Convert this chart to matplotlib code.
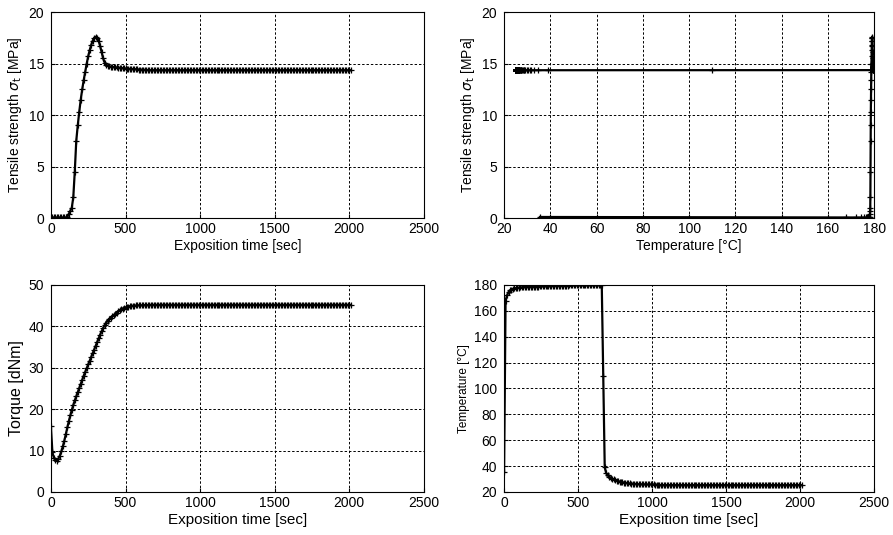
"""Four-panel cure curves: tensile strength, torque and temperature over exposition time."""

import matplotlib
matplotlib.use("Agg")
import matplotlib.pyplot as plt
import numpy as np

plt.rcParams["font.family"] = ["Liberation Sans", "DejaVu Sans"]
plt.rcParams["mathtext.fontset"] = "dejavusans"

# sampling grid of the recorder: one reading every 10 s, 0 .. 2010 s
time_s = np.arange(0, 2011, 10)

tensile_mpa = [
    0.10, 0.05, 0.05, 0.05, 0.05, 0.05, 0.05, 0.05, 0.05, 0.05,
    0.05, 0.10, 0.40, 0.70, 1.00, 2.00, 4.50, 7.50, 9.00, 10.3,
    11.5, 12.5, 13.4, 14.2, 15.0, 15.7, 16.3, 16.8, 17.2, 17.5,
    17.6, 17.5, 17.2, 16.7, 16.1, 15.5, 15.1, 14.9, 14.8, 14.75,
    14.70, 14.68, 14.66, 14.64, 14.62, 14.60, 14.58, 14.56, 14.55, 14.54,
    14.52, 14.50, 14.49, 14.48, 14.47, 14.46, 14.45, 14.44, 14.43, 14.42,
    14.41, 14.40, 14.39, 14.38, 14.37, 14.36, 14.36, 14.35, 14.35, 14.35,
    14.35, 14.35, 14.35, 14.35, 14.35, 14.35, 14.35, 14.35, 14.35, 14.35,
    14.35, 14.35, 14.35, 14.35, 14.35, 14.35, 14.35, 14.35, 14.35, 14.35,
    14.35, 14.35, 14.35, 14.35, 14.35, 14.35, 14.35, 14.35, 14.35, 14.35,
    14.35, 14.35, 14.35, 14.35, 14.35, 14.35, 14.35, 14.35, 14.35, 14.35,
    14.35, 14.35, 14.35, 14.35, 14.35, 14.35, 14.35, 14.35, 14.35, 14.35,
    14.35, 14.35, 14.35, 14.35, 14.35, 14.35, 14.35, 14.35, 14.35, 14.35,
    14.35, 14.35, 14.35, 14.35, 14.35, 14.35, 14.35, 14.35, 14.35, 14.35,
    14.35, 14.35, 14.35, 14.35, 14.35, 14.35, 14.35, 14.35, 14.35, 14.35,
    14.35, 14.35, 14.35, 14.35, 14.35, 14.35, 14.35, 14.35, 14.35, 14.35,
    14.35, 14.35, 14.35, 14.35, 14.35, 14.35, 14.35, 14.35, 14.35, 14.35,
    14.35, 14.35, 14.35, 14.35, 14.35, 14.35, 14.35, 14.35, 14.35, 14.35,
    14.35, 14.35, 14.35, 14.35, 14.35, 14.35, 14.35, 14.35, 14.35, 14.35,
    14.35, 14.35, 14.35, 14.35, 14.35, 14.35, 14.35, 14.35, 14.35, 14.35,
    14.35, 14.35,
]

temperature_c = [
    35.5, 168.0, 172.0, 174.5, 175.8, 176.5, 177.0, 177.3, 177.6, 177.8,
    178.0, 178.1, 178.2, 178.3, 178.35, 178.4, 178.45, 178.5, 178.55, 178.6,
    178.65, 178.7, 178.75, 178.8, 178.85, 178.9, 178.95, 179.0, 179.05, 179.1,
    179.15, 179.2, 179.25, 179.3, 179.35, 179.4, 179.45, 179.5, 179.5, 179.55,
    179.55, 179.6, 179.6, 179.6, 179.62, 179.64, 179.65, 179.66, 179.68, 179.7,
    179.7, 179.7, 179.72, 179.72, 179.73, 179.74, 179.74, 179.75, 179.75, 179.75,
    179.75, 179.75, 179.8, 179.8, 179.8, 179.8, 179.8, 110.0, 39.0, 34.5,
    32.8, 31.8, 31.0, 30.3, 29.7, 29.2, 28.8, 28.4, 28.1, 27.8,
    27.5, 27.3, 27.1, 26.9, 26.7, 26.6, 26.5, 26.4, 26.3, 26.2,
    26.1, 26.0, 26.0, 25.9, 25.9, 25.9, 25.8, 25.8, 25.8, 25.8,
    25.8, 25.8, 25.7, 25.7, 25.5, 25.4, 25.3, 25.3, 25.3, 25.3,
    25.3, 25.3, 25.3, 25.3, 25.3, 25.3, 25.3, 25.3, 25.3, 25.3,
    25.3, 25.3, 25.3, 25.3, 25.3, 25.3, 25.3, 25.3, 25.3, 25.3,
    25.3, 25.3, 25.3, 25.3, 25.3, 25.3, 25.3, 25.3, 25.3, 25.3,
    25.3, 25.3, 25.3, 25.3, 25.3, 25.3, 25.3, 25.3, 25.3, 25.3,
    25.3, 25.3, 25.3, 25.3, 25.3, 25.3, 25.3, 25.3, 25.3, 25.3,
    25.3, 25.3, 25.3, 25.3, 25.3, 25.3, 25.3, 25.3, 25.3, 25.3,
    25.3, 25.3, 25.3, 25.3, 25.3, 25.3, 25.3, 25.3, 25.3, 25.3,
    25.3, 25.3, 25.3, 25.3, 25.3, 25.3, 25.3, 25.3, 25.3, 25.3,
    25.3, 25.3, 25.3, 25.3, 25.3, 25.3, 25.3, 25.3, 25.3, 25.3,
    25.3, 25.3,
]

torque_dnm = [
    15.9, 9.6, 8.2, 7.7, 7.6, 8.0, 8.8, 9.8, 11.0, 12.4,
    14.0, 15.6, 17.1, 18.5, 19.8, 21.0, 22.1, 23.1, 24.1, 25.1,
    26.1, 27.1, 28.1, 29.0, 29.9, 30.8, 31.7, 32.6, 33.5, 34.4,
    35.3, 36.2, 37.1, 38.0, 38.8, 39.6, 40.3, 40.9, 41.4, 41.8,
    42.1, 42.4, 42.7, 43.0, 43.3, 43.6, 43.9, 44.1, 44.3, 44.5,
    44.6, 44.7, 44.8, 44.9, 44.95, 45.0, 45.0, 45.05, 45.05, 45.1,
    45.1, 45.1, 45.1, 45.15, 45.15, 45.15, 45.2, 45.2, 45.2, 45.2,
    45.2, 45.2, 45.2, 45.2, 45.2, 45.2, 45.2, 45.2, 45.2, 45.2,
    45.2, 45.2, 45.2, 45.2, 45.2, 45.2, 45.2, 45.2, 45.2, 45.2,
    45.2, 45.2, 45.2, 45.2, 45.2, 45.2, 45.2, 45.2, 45.2, 45.2,
    45.2, 45.2, 45.2, 45.2, 45.2, 45.2, 45.2, 45.2, 45.2, 45.2,
    45.2, 45.2, 45.2, 45.2, 45.2, 45.2, 45.2, 45.2, 45.2, 45.2,
    45.2, 45.2, 45.2, 45.2, 45.2, 45.2, 45.2, 45.2, 45.2, 45.2,
    45.2, 45.2, 45.2, 45.2, 45.2, 45.2, 45.2, 45.2, 45.2, 45.2,
    45.2, 45.2, 45.2, 45.2, 45.2, 45.2, 45.2, 45.2, 45.2, 45.2,
    45.2, 45.2, 45.2, 45.2, 45.2, 45.2, 45.2, 45.2, 45.2, 45.2,
    45.2, 45.2, 45.2, 45.2, 45.2, 45.2, 45.2, 45.2, 45.2, 45.2,
    45.2, 45.2, 45.2, 45.2, 45.2, 45.2, 45.2, 45.2, 45.2, 45.2,
    45.2, 45.2, 45.2, 45.2, 45.2, 45.2, 45.2, 45.2, 45.2, 45.2,
    45.2, 45.2, 45.2, 45.2, 45.2, 45.2, 45.2, 45.2, 45.2, 45.2,
    45.2, 45.2,
]

time_ticks = [0, 500, 1000, 1500, 2000, 2500]
temp_ticks = [20, 40, 60, 80, 100, 120, 140, 160, 180]

TENSILE_LABEL = r"Tensile strength $\sigma_{\mathrm{t}}$ [MPa]"
TIME_LABEL = "Exposition time [sec]"


def _style(ax, xlim, xticks, ylim, yticks):
    """Estilo tipo MATLAB: rejilla punteada negra y marco fino."""
    ax.set_xlim(*xlim)
    ax.set_ylim(*ylim)
    ax.set_xticks(xticks)
    ax.set_yticks(yticks)
    ax.grid(True, color="black", linestyle=(0, (2.5, 2)), linewidth=0.7)
    ax.tick_params(direction="in", length=3, labelsize=10)
    ax.tick_params(axis="x", pad=3)
    ax.tick_params(axis="y", pad=5)
    for spine in ax.spines.values():
        spine.set_linewidth(0.8)
        spine.set_color("black")


def _curve(ax, x, y):
    ax.plot(x, y, color="black", linewidth=1.6, marker="+",
            markersize=4.5, markeredgewidth=0.9)


fig = plt.figure(figsize=(8.93, 5.35), dpi=100)
ax_ts = fig.add_axes([0.057, 0.5925, 0.4177, 0.385])
ax_tt = fig.add_axes([0.5645, 0.5925, 0.4143, 0.385])
ax_tq = fig.add_axes([0.057, 0.0804, 0.4177, 0.3869])
ax_te = fig.add_axes([0.5645, 0.0804, 0.4143, 0.3869])

_curve(ax_ts, time_s, tensile_mpa)
_style(ax_ts, (0, 2500), time_ticks, (0, 20), [0, 5, 10, 15, 20])
ax_ts.set_xlabel(TIME_LABEL, fontsize=10, labelpad=2)
ax_ts.set_ylabel(TENSILE_LABEL, fontsize=10, labelpad=3)

_curve(ax_tt, temperature_c, tensile_mpa)
_style(ax_tt, (20, 180), temp_ticks, (0, 20), [0, 5, 10, 15, 20])
ax_tt.set_xlabel("Temperature [°C]", fontsize=10, labelpad=2)
ax_tt.set_ylabel(TENSILE_LABEL, fontsize=10, labelpad=3)

_curve(ax_tq, time_s, torque_dnm)
_style(ax_tq, (0, 2500), time_ticks, (0, 50), [0, 10, 20, 30, 40, 50])
ax_tq.set_xlabel(TIME_LABEL, fontsize=11, labelpad=2)
ax_tq.set_ylabel("Torque [dNm]", fontsize=11.5, labelpad=3)

_curve(ax_te, time_s, temperature_c)
_style(ax_te, (0, 2500), time_ticks, (20, 180), temp_ticks)
ax_te.set_xlabel(TIME_LABEL, fontsize=11, labelpad=2)
ax_te.set_ylabel("Temperature [°C]", fontsize=8.5, labelpad=3)

fig.savefig("out.png", dpi=100)
plt.close(fig)
